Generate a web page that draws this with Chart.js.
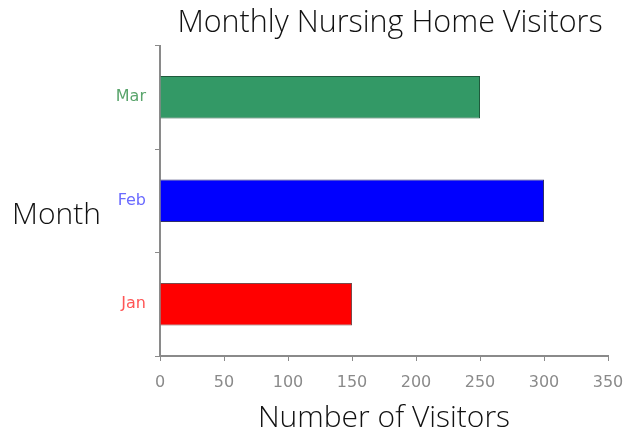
<!DOCTYPE html>
<html>
<head>
<meta charset="utf-8">
<script src="https://cdn.jsdelivr.net/npm/chart.js@4/dist/chart.umd.min.js"></script>
<style>
  html, body { margin: 0; padding: 0; background: #ffffff; }
  #wrap { width: 628px; height: 437px; position: relative; }
</style>
</head>
<body>
<div id="wrap"><canvas id="c" width="628" height="437"></canvas></div>
<script>
// ---- Data ----
const categories = ['Jan', 'Feb', 'Mar'];
const visitors = [150, 300, 250];
const chartTitle = 'Monthly Nursing Home Visitors';
const xAxisTitle = 'Number of Visitors';
const yAxisTitle = 'Month';
const xMin = 0;
const xMax = 350;
const xStep = 50;

// ---- Styles ----
const barFill = ['#ff0000', '#0000ff', '#339966'];
const barEdge = ['#7a4a4a', '#30306a', '#1f5a3c'];
const labelColors = ['#ff5555', '#6b6bff', '#5aa56c'];
const axisGray = '#8a8a8a';
const titleFont = '"Open Sans", "Noto Sans", sans-serif';

const yTitlePlugin = {
  id: 'yTitleHorizontal',
  afterLayout(chart) {
    // nudge the chart title slightly right, as in the reference
    if (chart.titleBlock) {
      chart.titleBlock.left += 6;
      chart.titleBlock.right += 6;
    }
  },
  afterDraw(chart) {
    const ctx = chart.ctx;
    ctx.save();
    ctx.font = '300 30px ' + titleFont;
    ctx.fillStyle = '#111111';
    ctx.textAlign = 'left';
    ctx.textBaseline = 'middle';
    ctx.fillText(yAxisTitle, 12, 215);
    ctx.restore();
  }
};

new Chart(document.getElementById('c'), {
  type: 'bar',
  data: {
    labels: categories,
    datasets: [{
      data: visitors,
      backgroundColor: barFill,
      borderColor: barEdge,
      borderWidth: 1,
      barPercentage: 0.41,
      categoryPercentage: 1.0
    }]
  },
  options: {
    indexAxis: 'y',
    responsive: false,
    animation: false,
    devicePixelRatio: 1,
    layout: { padding: { left: 0, right: 20, top: 0, bottom: 0 } },
    plugins: {
      legend: { display: false },
      tooltip: { enabled: false },
      title: {
        display: true,
        text: chartTitle,
        fullSize: false,
        color: '#111111',
        font: { family: titleFont, size: 30.5, weight: 300, lineHeight: 1.2 },
        padding: { top: 5, bottom: 4 }
      }
    },
    scales: {
      y: {
        reverse: true,
        afterFit(scale) { scale.width = 160; scale.paddingTop = 0; scale.paddingBottom = 0; },
        border: { display: true, color: axisGray, width: 2 },
        grid: { display: true, drawOnChartArea: false, drawTicks: true, tickLength: 5, color: axisGray, offset: true },
        ticks: {
          color: (c) => labelColors[c.index],
          font: { family: 'DejaVu Sans', size: 16 },
          padding: 9
        }
      },
      x: {
        min: xMin,
        max: xMax,
        afterFit(scale) { scale.height = 81; scale.paddingLeft = 0; scale.paddingRight = 0; },
        border: { display: true, color: axisGray, width: 2 },
        grid: { display: true, drawOnChartArea: false, drawTicks: true, tickLength: 5, color: axisGray },
        ticks: {
          stepSize: xStep,
          color: '#8a8a8a',
          font: { family: 'DejaVu Sans', size: 16 },
          padding: 12,
          maxRotation: 0
        },
        title: {
          display: true,
          text: xAxisTitle,
          color: '#111111',
          font: { family: titleFont, size: 30, weight: 300, lineHeight: 1.2 },
          padding: { top: 0, bottom: 1 }
        }
      }
    }
  },
  plugins: [yTitlePlugin]
});
</script>
</body>
</html>
